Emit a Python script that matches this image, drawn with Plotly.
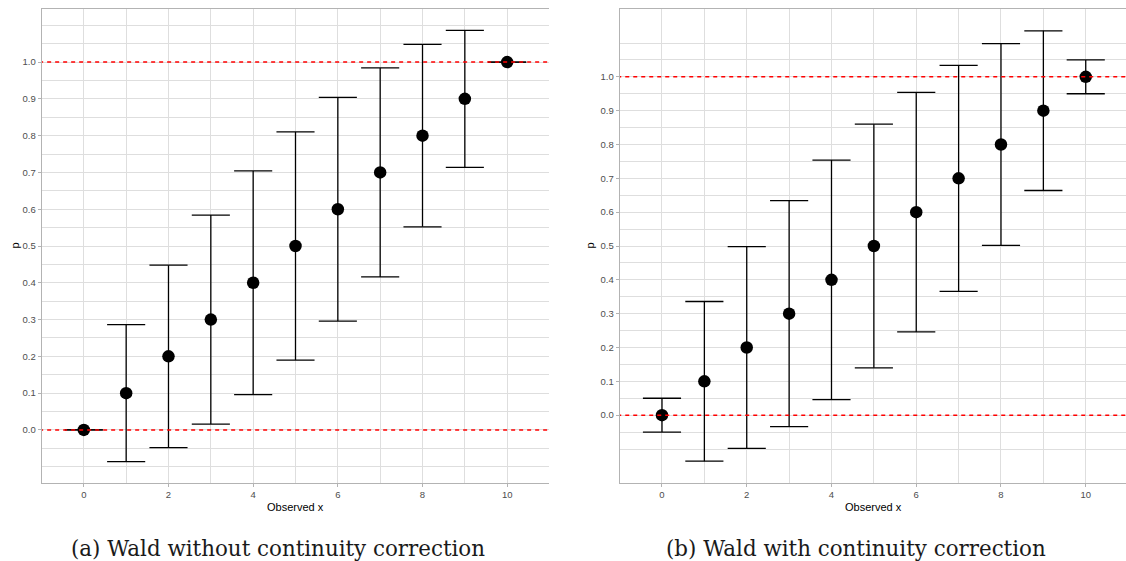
import plotly.graph_objects as go

# Observed successes out of n = 10 and their point estimates
observed_x = [0, 1, 2, 3, 4, 5, 6, 7, 8, 9, 10]
p_hat = [0.0, 0.1, 0.2, 0.3, 0.4, 0.5, 0.6, 0.7, 0.8, 0.9, 1.0]

# Wald interval without continuity correction
wald_lower = [0.0, -0.086, -0.048, 0.016, 0.096, 0.190, 0.296, 0.416, 0.552, 0.714, 1.0]
wald_upper = [0.0, 0.286, 0.448, 0.584, 0.704, 0.810, 0.904, 0.984, 1.048, 1.086, 1.0]

# Wald interval with continuity correction
cc_lower = [-0.05, -0.136, -0.098, -0.034, 0.046, 0.140, 0.246, 0.366, 0.502, 0.664, 0.95]
cc_upper = [0.05, 0.336, 0.498, 0.634, 0.754, 0.860, 0.954, 1.034, 1.098, 1.136, 1.05]

y_tick_vals = [0.0, 0.1, 0.2, 0.3, 0.4, 0.5, 0.6, 0.7, 0.8, 0.9, 1.0]
y_tick_text = ["0.0", "0.1", "0.2", "0.3", "0.4", "0.5", "0.6", "0.7", "0.8", "0.9", "1.0"]
y_minor_vals = [-0.1, -0.05, 0.05, 0.15, 0.25, 0.35, 0.45, 0.55, 0.65, 0.75, 0.85, 0.95, 1.05, 1.1]
x_tick_vals = [0, 2, 4, 6, 8, 10]
x_minor_vals = [1, 3, 5, 7, 9]

captions = ["(a) Wald without continuity correction", "(b) Wald with continuity correction"]

W, H = 1126, 561
CAP_HALF = 0.45  # half-width of the error bar caps, in x units

fig = go.Figure()


def errorbar_paths(xs, lo, hi):
    px, py = [], []
    for x, a, b in zip(xs, lo, hi):
        px += [x, x, None, x - CAP_HALF, x + CAP_HALF, None, x - CAP_HALF, x + CAP_HALF, None]
        py += [a, b, None, b, b, None, a, a, None]
    return px, py


panels = [
    dict(lo=wald_lower, hi=wald_upper, xa="x", ya="y"),
    dict(lo=cc_lower, hi=cc_upper, xa="x2", ya="y2"),
]

for pnl in panels:
    ex, ey = errorbar_paths(observed_x, pnl["lo"], pnl["hi"])
    fig.add_trace(go.Scatter(x=ex, y=ey, mode="lines", xaxis=pnl["xa"], yaxis=pnl["ya"],
                             line=dict(color="black", width=1.3), hoverinfo="skip",
                             showlegend=False))
    fig.add_trace(go.Scatter(x=observed_x, y=p_hat, mode="markers", xaxis=pnl["xa"],
                             yaxis=pnl["ya"], marker=dict(color="black", size=12.5),
                             showlegend=False))
    for ref in (0.0, 1.0):
        fig.add_trace(go.Scatter(x=[-2, 12], y=[ref, ref], mode="lines", xaxis=pnl["xa"],
                                 yaxis=pnl["ya"], hoverinfo="skip", showlegend=False,
                                 line=dict(color="red", width=1.5, dash="4px,4px")))

grid_major = "#DEDEDE"
frame = "#B3B3B3"
tick_font = dict(family="Liberation Sans, Arial, sans-serif", size=9.5, color="#4D4D4D")

y_dom = [1 - 482.7 / H, 1 - 9.3 / H]

common_x = dict(tickmode="array", tickvals=x_tick_vals, ticks="outside", ticklen=3,
                tickcolor=frame, tickfont=tick_font, showgrid=True, gridcolor=grid_major,
                gridwidth=1.1, zeroline=False, showline=True, linecolor=frame, linewidth=1.2,
                mirror=True,
                minor=dict(tickmode="array", tickvals=x_minor_vals, showgrid=True,
                           gridcolor=grid_major, gridwidth=0.6, ticklen=0))
common_y = dict(tickmode="array", tickvals=y_tick_vals, ticktext=y_tick_text, ticks="outside",
                ticklen=3, tickcolor=frame, tickfont=tick_font, showgrid=True,
                gridcolor=grid_major, gridwidth=1.1, zeroline=False, showline=True,
                linecolor=frame, linewidth=1.2,
                minor=dict(tickmode="array", tickvals=y_minor_vals, showgrid=True,
                           gridcolor=grid_major, gridwidth=0.6, ticklen=0))

fig.update_layout(
    width=W, height=H,
    margin=dict(l=0, r=0, t=0, b=0),
    paper_bgcolor="white", plot_bgcolor="white",
    xaxis=dict(common_x, domain=[41.7 / W, 549.3 / W], range=[-0.995, 10.995], anchor="y"),
    yaxis=dict(common_y, domain=y_dom, range=[-0.1435, 1.1435], anchor="x"),
    xaxis2=dict(common_x, domain=[619.7 / W, 1.0], range=[-0.998, 10.95], anchor="y2"),
    yaxis2=dict(common_y, domain=y_dom, range=[-0.1996, 1.1996], anchor="x2", mirror=False),
)

title_font = dict(family="Liberation Sans, Arial, sans-serif", size=11, color="black")
caption_font = dict(family="DejaVu Serif, serif", size=21.4, color="#1a1a1a")

annotations = []
for xc, px in ((295.5, 14.5), (873.0, 589.5)):
    annotations.append(dict(x=xc / W, y=1 - 506.7 / H, xref="paper", yref="paper",
                            text="Observed x", showarrow=False, font=title_font,
                            xanchor="center", yanchor="middle"))
    annotations.append(dict(x=px / W, y=1 - 246.0 / H, xref="paper", yref="paper",
                            text="p", showarrow=False, font=title_font, textangle=-90,
                            xanchor="center", yanchor="middle"))
for xc, txt in ((277.5, captions[0]), (855.8, captions[1])):
    annotations.append(dict(x=xc / W, y=1 - 548.0 / H, xref="paper", yref="paper",
                            text=txt, showarrow=False, font=caption_font,
                            xanchor="center", yanchor="middle"))
fig.update_layout(annotations=annotations)

fig.write_html("out.html")
